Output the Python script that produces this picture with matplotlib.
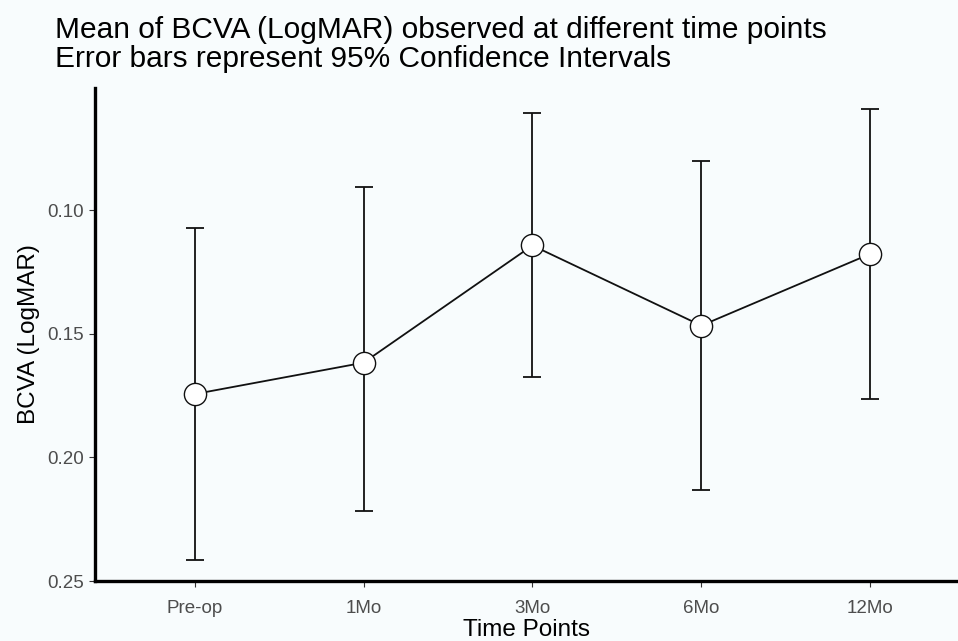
import matplotlib
matplotlib.use("Agg")
import matplotlib.pyplot as plt

categories = ["Pre-op", "1Mo", "3Mo", "6Mo", "12Mo"]
means = [0.1744, 0.1617, 0.1143, 0.1467, 0.1177]
ci_low = [0.1073, 0.0908, 0.0607, 0.0800, 0.0591]
ci_high = [0.2417, 0.2217, 0.1674, 0.2132, 0.1763]
yticks = [0.10, 0.15, 0.20, 0.25]

plt.rcParams['font.family'] = ['Liberation Sans', 'DejaVu Sans']
bg = "#F8FCFD"
fig = plt.figure(figsize=(9.58, 6.41), dpi=100, facecolor=bg)
ax = fig.add_axes([95/958, 1-581/641, 1-95/958, (581-88)/641], facecolor=bg)

x = list(range(1, len(categories) + 1))
yerr = [[m - l for m, l in zip(means, ci_low)], [h - m for m, h in zip(means, ci_high)]]
ax.errorbar(x, means, yerr=yerr, fmt='none', ecolor='#111111', elinewidth=1.3,
            capsize=6.5, capthick=1.3, zorder=2)
ax.plot(x, means, color='#111111', lw=1.3, zorder=3)
ax.plot(x, means, 'o', ms=16, mfc='white', mec='#111111', mew=1.0, zorder=4)

ax.set_xlim(0.41, 5.52)
ax.set_ylim(0.25, 0.0506)
ax.set_xticks(x)
ax.set_xticklabels(categories)
ax.set_yticks(yticks)
ax.set_yticklabels([f"{v:.2f}" for v in yticks])
ax.tick_params(axis='both', colors='#333333', labelcolor='#4D4D4D', labelsize=13.5,
               length=4, width=0.8, direction='out')
ax.tick_params(axis='x', pad=10)
ax.tick_params(axis='y', pad=4)
for s in ['top', 'right']:
    ax.spines[s].set_visible(False)
for s in ['left', 'bottom']:
    ax.spines[s].set_linewidth(2.4)
    ax.spines[s].set_color('black')

ax.set_xlabel("Time Points", fontsize=17.5, labelpad=1)
ax.set_ylabel("BCVA (LogMAR)", fontsize=17.5, labelpad=5)

fig.text(55/958, 1-16/641, "Mean of BCVA (LogMAR) observed at different time points\nError bars represent 95% Confidence Intervals",
         fontsize=21.5, va='top', ha='left', linespacing=1.05)

fig.savefig("out.png", dpi=100, facecolor=bg)
